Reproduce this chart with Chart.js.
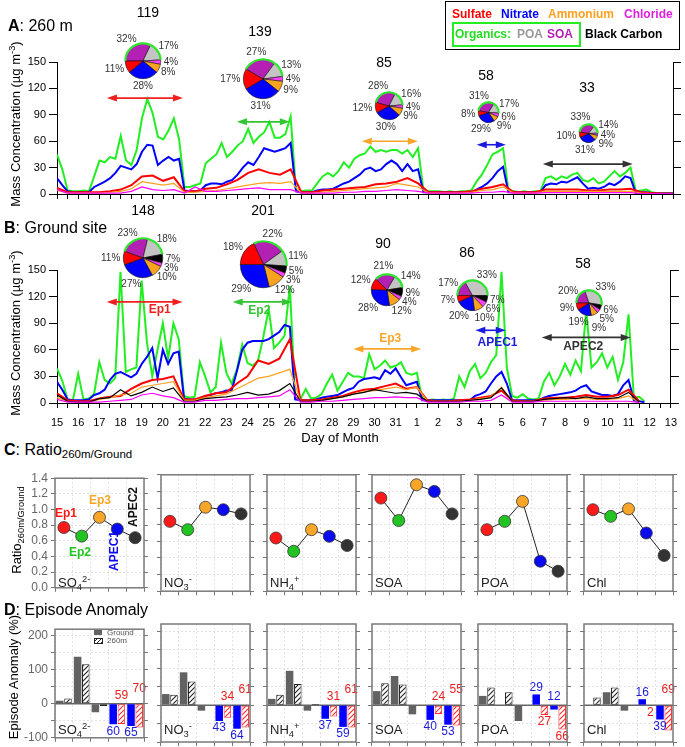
<!DOCTYPE html>
<html>
<head>
<meta charset="utf-8">
<title>Aerosol episodes at 260 m and ground</title>
<script src="https://cdn.jsdelivr.net/npm/chart.js@4.4.1/dist/chart.umd.min.js"></script>
<style>
  body { margin: 0; width: 685px; height: 747px; position: relative; overflow: hidden; background: #fff;
         font-family: "Liberation Sans", Arial, sans-serif; color: #000; }
  canvas { position: absolute; }
  .t { position: absolute; white-space: nowrap; line-height: 1; }
  sub, sup { font-size: 72%; line-height: 0; position: relative; vertical-align: baseline; }
  sup { top: -0.55em; }
  sub { top: 0.3em; }
</style>
</head>
<body>
<script>
// x of the time series = days since Oct 15 00:00
const STEP_FINE = 0.25;    // organics, nitrate (6-hourly)
const STEP_COARSE = 0.5;   // the smaller species (12-hourly)

// ---- A: 260 m ----
const ORG_A = [
  45, 28, 4, 3,      // 15
  3, 4, 3, 20,       // 16
  38, 36, 42, 40,    // 17
  66, 38, 33, 50,    // 18
  86, 108, 92, 65,   // 19
  62, 72, 86, 62,    // 20
  8, 8, 10, 12,      // 21
  35, 40, 45, 58,    // 22
  42, 48, 55, 60,    // 23
  74, 58, 65, 70,    // 24
  82, 64, 64, 68,    // 25
  88, 4, 3, 4,       // 26
  4, 12, 20, 24,     // 27
  20, 26, 36, 30,    // 28
  40, 44, 46, 54,    // 29
  48, 50, 48, 50,    // 30
  50, 46, 50, 42,    // 31
  52, 4, 3, 3,       // 1
  3, 2, 3, 2,        // 2
  3, 3, 4, 14,       // 3
  22, 33, 45, 48,    // 4
  52, 4, 3, 2,       // 5
  3, 2, 3, 3,        // 6
  18, 20, 16, 20,    // 7
  18, 22, 24, 16,    // 8
  14, 18, 12, 14,    // 9
  20, 26, 20, 24,    // 10
  30, 3, 4, 5,       // 11
  2, 1, 1, 1,        // 12
  1                  // 13
];
const NO3_A = [
  18, 10, 3, 2,
  2, 2, 2, 8,
  11, 14, 18, 24,
  32, 30, 28, 34,
  48, 56, 55, 33,
  38, 42, 38, 40,
  4, 3, 3, 4,
  10, 12, 12, 11,
  14, 16, 22, 30,
  36, 33, 42, 52,
  50, 48, 50, 52,
  58, 3, 2, 2,
  2, 4, 5, 5,
  6, 9, 12, 14,
  18, 22, 28, 30,
  26, 28, 34, 38,
  34, 26, 34, 26,
  28, 2, 2, 2,
  2, 2, 2, 2,
  2, 2, 2, 5,
  8, 12, 18, 26,
  31, 2, 2, 2,
  2, 2, 2, 2,
  10, 12, 11, 14,
  13, 16, 19, 12,
  6, 7, 6, 8,
  12, 10, 14, 20,
  18, 1, 2, 2,
  1, 0.5, 0.5, 0.5,
  0.5
];
const SO4_A = [7, 2, 2, 2, 2, 3, 5, 10, 20, 21, 15, 19, 3, 3, 6, 7, 11, 16, 24, 28, 24, 22, 28, 2,
  2, 4, 5, 6, 7, 8, 11, 12, 14, 18, 12, 2, 2, 2, 2, 3, 6, 8, 11, 2, 2, 2, 5, 5, 5, 5, 4, 4, 5, 5,
  6, 2, 1, 0.5, 0.5];
const NH4_A = [4, 1, 1, 1, 1, 2, 3, 6, 14, 12, 10, 12, 2, 2, 3, 4, 6, 8, 10, 12, 13, 12, 14, 1,
  1, 2, 3, 4, 5, 6, 7, 8, 12, 10, 8, 1, 1, 1, 1, 2, 4, 5, 8, 1, 1, 1, 3, 3, 3, 3, 3, 3, 3, 3,
  3, 1, 0.5, 0.5, 0.5];
const CHL_A = [5, 1, 1, 1, 1, 1, 1, 3, 8, 5, 4, 5, 1, 8, 3, 3, 4, 5, 6, 7, 5, 5, 5, 1,
  1, 1, 1, 2, 2, 3, 3, 4, 5, 4, 3, 1, 1, 1, 1, 1, 2, 2, 3, 1, 1, 1, 1.5, 1.5, 1.5, 1.5, 1.5, 1.5, 1.5, 1.5,
  1.5, 0.5, 0.5, 0.5, 0.5];

// ---- B: ground site ----
const ORG_B = [
  39, 25, 4, 3,      // 15
  33, 4, 5, 10,      // 16
  46, 26, 22, 28,    // 17
  148, 35, 38, 40,   // 18
  138, 68, 30, 60,   // 19
  90, 50, 90, 72,    // 20
  8, 6, 7, 46,       // 21
  30, 12, 18, 68,    // 22
  34, 22, 38, 66,    // 23
  45, 42, 48, 75,    // 24
  106, 62, 68, 76,   // 25
  132, 6, 4, 16,     // 26
  5, 6, 10, 22,      // 27
  32, 14, 24, 34,    // 28
  30, 30, 28, 55,    // 29
  38, 42, 48, 40,    // 30
  42, 46, 34, 32,    // 31
  34, 5, 3, 4,       // 1
  3, 4, 3, 5,        // 2
  30, 18, 36, 44,    // 3
  28, 34, 46, 54,    // 4
  148, 40, 8, 6,     // 5
  10, 5, 4, 5,       // 6
  24, 34, 20, 30,    // 7
  44, 32, 48, 36,    // 8
  104, 40, 46, 56,   // 9
  40, 52, 26, 46,    // 10
  100, 6, 7, 2       // 11
];
const NO3_B = [
  24, 15, 4, 3,
  3, 3, 4, 9,
  11, 15, 26, 33,
  35, 32, 29, 33,
  44, 52, 62, 28,
  60, 44, 56, 58,
  5, 4, 4, 5,
  8, 9, 11, 12,
  14, 14, 36, 60,
  68, 70, 70, 70,
  72, 76, 80, 88,
  86, 4, 3, 3,
  3, 4, 6, 7,
  8, 9, 12, 15,
  17, 24, 27, 28,
  29, 27, 37, 33,
  39, 29, 20, 22,
  24, 3, 3, 3,
  3, 3, 3, 3,
  3, 3, 3, 8,
  10, 13, 22, 30,
  35, 22, 3, 3,
  3, 3, 3, 3,
  6, 8, 9, 10,
  11, 12, 14, 18,
  20, 13, 11, 9,
  9, 8, 10, 20,
  26, 3, 2, 1
];
const SO4_B = [11, 3, 2, 2, 5, 7, 8, 16, 22, 26, 27, 30, 4, 4, 8, 11, 12, 22, 30, 48, 44, 50, 72, 3,
  3, 4, 6, 8, 12, 15, 16, 19, 22, 16, 18, 3, 2, 2, 3, 4, 6, 8, 14, 3, 2, 2, 5, 6, 6, 7, 9, 7, 7, 9,
  15, 2];
const NH4_B = [6, 2, 1, 1, 4, 6, 9, 11, 18, 20, 22, 24, 3, 3, 6, 8, 10, 16, 22, 28, 30, 34, 38, 2,
  2, 3, 5, 7, 10, 13, 14, 16, 18, 15, 18, 2, 2, 2, 2, 3, 5, 7, 18, 2, 2, 2, 3, 4, 4, 5, 5, 4, 4, 5,
  8, 1];
const CHL_B = [4, 1, 1, 1, 1, 2, 3, 4, 9, 11, 8, 6, 1, 1, 3, 3, 4, 5, 5, 6, 7, 8, 15, 1,
  1, 2, 2, 3, 4, 5, 6, 6, 7, 6, 6, 1, 1, 1, 1, 2, 2, 3, 9, 1, 1, 1, 2, 2, 2, 2, 2, 2, 2, 2,
  2, 0.5];
const BC_B = [9, 2, 1, 1, 5, 6, 15, 8, 12, 18, 13, 17, 2, 2, 5, 6, 7, 9, 12, 9, 10, 14, 22, 2,
  2, 3, 5, 7, 10, 12, 15, 13, 11, 12, 10, 2, 2, 2, 2, 3, 4, 6, 17, 2, 2, 2, 4, 5, 6, 5, 7, 5, 5, 6,
  12, 1];

// ---- episode pies: shares (%) in order SOA, POA, BC, Chl, NH4, NO3, SO4 ----
const PIE_KEYS = ['SOA', 'POA', 'BC', 'Chl', 'NH4', 'NO3', 'SO4'];
const TOTAL_A = [119, 139, 85, 58, 33];
const PIE_A = [
  [32, 17, 0, 4, 8, 28, 11],
  [27, 13, 0, 4, 9, 31, 17],
  [28, 16, 0, 4, 9, 30, 12],
  [31, 17, 0, 6, 9, 29, 8],
  [33, 14, 0, 4, 9, 31, 10]
];
const TOTAL_B = [148, 201, 90, 86, 58];
const PIE_B = [
  [23, 18, 7, 3, 10, 27, 11],
  [22, 11, 5, 3, 12, 29, 18],
  [21, 14, 9, 4, 12, 28, 12],
  [17, 33, 7, 6, 10, 20, 7],
  [20, 33, 6, 5, 9, 19, 9]
];

// ---- episodes (day offsets) ----
const EPISODES = ['Ep1', 'Ep2', 'Ep3', 'APEC1', 'APEC2'];
const PERIOD_A = [[2.35, 5.93], [8.47, 10.96], [14.35, 16.99], [19.76, 21.13], [22.87, 27.1]];
const PERIOD_B = [[2.35, 5.93], [8.3, 11.1], [14.0, 17.2], [19.76, 21.2], [22.9, 27.1]];

// ---- C: ratio 260 m / ground ----
const RATIO_SO4 = [0.77, 0.66, 0.90, 0.75, 0.64];
const RATIO_NO3 = [0.84, 0.74, 1.01, 0.98, 0.93];
const RATIO_NH4 = [0.64, 0.48, 0.74, 0.66, 0.55];
const RATIO_SOA = [1.12, 0.85, 1.28, 1.20, 0.93];
const RATIO_POA = [0.74, 0.84, 1.08, 0.36, 0.24];
const RATIO_CHL = [0.98, 0.90, 0.99, 0.70, 0.43];

// ---- D: episode anomaly (%) ----
const ANOM_GROUND_SO4 = [9, 139, -25, -60, -65];
const ANOM_260_SO4 = [16, 117, -6, -59, -70];
const ANOM_GROUND_NO3 = [30, 89, -15, -43, -64];
const ANOM_260_NO3 = [28, 64, -2, -34, -61];
const ANOM_GROUND_NH4 = [17, 93, -15, -37, -59];
const ANOM_260_NH4 = [28, 57, 3, -31, -61];
const ANOM_GROUND_SOA = [38, 79, -25, -40, -53];
const ANOM_260_SOA = [59, 56, 1, -24, -55];
const ANOM_GROUND_POA = [25, 0, -43, 29, -12];
const ANOM_260_POA = [48, 35, 1, -27, -66];
const ANOM_GROUND_CHL = [0, 35, -15, 16, -39];
const ANOM_260_CHL = [21, 48, 1, -2, -69];

// ---------------- layout & style ----------------
const C_SULF = '#ff0000', C_NITR = '#0000ff', C_AMMO = '#ffa020', C_CHL = '#ff00ff', C_ORG = '#22ee22', C_BC = '#000';
const EP_COLORS = ['#ff1a1a', '#22c422', '#f8a628', '#0a0af0', '#333333'];
const PIE_COLORS = ['#b41fb4', '#c4c4c4', '#000000', '#ff40ff', '#f9a320', '#0000ff', '#ff0000'];
const BOX_X = [55, 161, 267, 372, 478, 584], BOX_W = 89;
const GRID = '#e2e2e2', AXIS = '#777';
const BASE = { responsive: false, animation: false, events: [], devicePixelRatio: 1 };
Chart.defaults.font.family = '"Liberation Sans", Arial, sans-serif';

function makeCanvas(left, top, w, h) {
  const c = document.createElement('canvas');
  c.width = w; c.height = h;
  c.style.left = left + 'px'; c.style.top = top + 'px';
  c.style.width = w + 'px'; c.style.height = h + 'px';
  document.body.appendChild(c);
  return c;
}

function text(html, x, y, css, mode) {
  const el = document.createElement('div');
  el.className = 't';
  el.innerHTML = html;
  el.style.cssText += css || '';
  el.style.left = x + 'px'; el.style.top = y + 'px';
  el.style.transform = mode === 'left' ? 'translate(0,-50%)'
    : mode === 'rot' ? 'translate(-50%,-50%) rotate(-90deg)' : 'translate(-50%,-50%)';
  document.body.appendChild(el);
}

function dayLabel(v) { const d = 15 + v; return String(d > 31 ? d - 31 : d); }

// double-headed episode arrows drawn on the time axis
const episodeArrows = {
  id: 'episodeArrows',
  afterDatasetsDraw(chart, args, opts) {
    const { ctx, scales: { x, y } } = chart;
    (opts.items || []).forEach(a => {
      const x1 = x.getPixelForValue(a.from), x2 = x.getPixelForValue(a.to), yy = y.getPixelForValue(a.level);
      ctx.save();
      ctx.strokeStyle = a.color; ctx.fillStyle = a.color; ctx.lineWidth = 1.6;
      ctx.beginPath(); ctx.moveTo(x1 + 6, yy); ctx.lineTo(x2 - 6, yy); ctx.stroke();
      [[x1, 1], [x2, -1]].forEach(([px, dir]) => {
        ctx.beginPath(); ctx.moveTo(px, yy); ctx.lineTo(px + dir * 10, yy - 3.5); ctx.lineTo(px + dir * 10, yy + 3.5);
        ctx.closePath(); ctx.fill();
      });
      if (a.label) {
        ctx.font = 'bold 12px "Liberation Sans", Arial';
        ctx.textAlign = 'center'; ctx.textBaseline = 'middle';
        ctx.fillText(a.label, (x1 + x2) / 2 + a.dx, yy + a.dy);
      }
      ctx.restore();
    });
  }
};

function timeChart(top, height, padTop, xHeight, showDays, sets, arrows) {
  const c = makeCanvas(0, top, 685, height);
  return new Chart(c, {
    type: 'line',
    data: {
      datasets: sets.map(s => ({
        data: s.values.map((v, i) => ({ x: i * s.step, y: v })),
        borderColor: s.color, borderWidth: s.width, pointRadius: 0, tension: 0, fill: false
      }))
    },
    options: {
      ...BASE,
      layout: { padding: { top: padTop } },
      plugins: { legend: { display: false }, tooltip: { enabled: false }, episodeArrows: { items: arrows } },
      scales: {
        x: {
          type: 'linear', min: 0, max: 29, afterFit: s => { s.height = xHeight; },
          ticks: { stepSize: 0.5, autoSkip: false, maxRotation: 0, padding: 8, color: '#000', font: { size: 11 },
                   callback: v => (showDays && Number.isInteger(v)) ? dayLabel(v) : '' },
          grid: { drawOnChartArea: false, tickLength: 5, tickColor: '#000' }, border: { color: '#000' }
        },
        y: {
          min: 0, max: 150, afterFit: s => { s.width = 57; },
          ticks: { stepSize: 30, padding: 3, color: '#000', font: { size: 11 } },
          grid: { drawOnChartArea: false, tickLength: 8, tickColor: '#000' }, border: { color: '#000' }
        },
        yR: {
          position: 'right', min: 0, max: 150, afterFit: s => { s.width = 12; },
          ticks: { stepSize: 30, display: false },
          grid: { drawOnChartArea: false, tickLength: 8, tickColor: '#000' }, border: { color: '#000' }
        }
      }
    },
    plugins: [episodeArrows]
  });
}

const ARROW_COLORS = ['#ee2020', '#33c433', '#f8a628', '#1a1ae0', '#333333'];
const ARROW_LEVEL_A = [109, 82, 60, 56, 34];
const ARROW_LEVEL_B = [114, 114, 61, 82, 74];
const ARROW_LABEL_OFF_B = [[15, 8], [-3, 9], [3, -10], [7, 12], [-3, 9]];

timeChart(50, 160, 12, 16, false, [
  { values: CHL_A, step: STEP_COARSE, color: C_CHL, width: 1.2 },
  { values: NH4_A, step: STEP_COARSE, color: C_AMMO, width: 1.2 },
  { values: SO4_A, step: STEP_COARSE, color: C_SULF, width: 2 },
  { values: NO3_A, step: STEP_FINE, color: C_NITR, width: 2 },
  { values: ORG_A, step: STEP_FINE, color: C_ORG, width: 2 }
], PERIOD_A.map((p, i) => ({ from: p[0], to: p[1], level: ARROW_LEVEL_A[i], color: ARROW_COLORS[i] })));

timeChart(255, 178, 15, 30, true, [
  { values: CHL_B, step: STEP_COARSE, color: C_CHL, width: 1.2 },
  { values: BC_B, step: STEP_COARSE, color: C_BC, width: 1.2 },
  { values: NH4_B, step: STEP_COARSE, color: C_AMMO, width: 1.2 },
  { values: SO4_B, step: STEP_COARSE, color: C_SULF, width: 2 },
  { values: NO3_B, step: STEP_FINE, color: C_NITR, width: 2 },
  { values: ORG_B, step: STEP_FINE, color: C_ORG, width: 2 }
], PERIOD_B.map((p, i) => ({ from: p[0], to: p[1], level: ARROW_LEVEL_B[i], color: ARROW_COLORS[i],
  label: EPISODES[i], dx: ARROW_LABEL_OFF_B[i][0], dy: ARROW_LABEL_OFF_B[i][1] })));

// ---- pies ----
const pieLabels = {
  id: 'pieLabels',
  afterDatasetsDraw(chart) {
    const ctx = chart.ctx, arcs = chart.getDatasetMeta(0).data;
    const vals = chart.data.datasets[0].data, names = chart.data.labels;
    ctx.save();
    const org = arcs.filter((a, i) => names[i] === 'SOA' || names[i] === 'POA');
    ctx.strokeStyle = '#2ee62e'; ctx.lineWidth = 2.2;
    ctx.beginPath();
    ctx.arc(arcs[0].x, arcs[0].y, arcs[0].outerRadius, org[0].startAngle, org[org.length - 1].endAngle);
    ctx.stroke();
    ctx.font = '10px "Liberation Sans", Arial';
    ctx.fillStyle = '#333'; ctx.textAlign = 'center'; ctx.textBaseline = 'middle';
    const items = arcs.map((a, i) => {
      const mid = (a.startAngle + a.endAngle) / 2, cs = Math.cos(mid), sn = Math.sin(mid);
      const t = vals[i] + '%', w = ctx.measureText(t).width, R = a.outerRadius + 3;
      return { t, cs, x: a.x + cs * (R + w / 2), y: a.y + sn * (R + 5) };
    });
    // keep neighbouring labels on the same side from overlapping
    [items.filter(o => o.cs >= 0.2), items.filter(o => o.cs <= -0.2)].forEach(side => {
      side.sort((p, q) => p.y - q.y);
      for (let i = 1; i < side.length; i++) {
        if (side[i].y < side[i - 1].y + 9) side[i].y = side[i - 1].y + 9;
      }
    });
    items.forEach(o => ctx.fillText(o.t, o.x, o.y));
    ctx.restore();
  }
};

function makePie(cx, cy, r, rot, shares) {
  const padX = 40, padY = 24;
  const w = Math.round(2 * r + 2 * padX), h = Math.round(2 * r + 2 * padY);
  const c = makeCanvas(Math.round(cx - w / 2), Math.round(cy - h / 2), w, h);
  const idx = shares.map((v, i) => i).filter(i => shares[i] > 0);
  new Chart(c, {
    type: 'pie',
    data: {
      labels: idx.map(i => PIE_KEYS[i]),
      datasets: [{ data: idx.map(i => shares[i]), backgroundColor: idx.map(i => PIE_COLORS[i]),
                   borderColor: '#111', borderWidth: 0.6, rotation: rot }]
    },
    options: { ...BASE, layout: { padding: { left: padX, right: padX, top: padY, bottom: padY } },
               plugins: { legend: { display: false }, tooltip: { enabled: false } } },
    plugins: [pieLabels]
  });
}

const PIE_POS_A = [[143, 61, 18, -90], [263, 79, 20, -60], [389, 106, 14, -75], [488, 112, 10.5, -80], [588, 133, 9.5, -80]];
const TOTAL_POS_A = [[148, 12], [260, 31], [384, 62], [486, 75], [587, 87]];
const PIE_POS_B = [[143, 258, 20, -70], [263, 264, 23.5, -25], [387, 290, 16, -45], [472, 295, 15.5, -90], [589, 303, 13, -90]];
const TOTAL_POS_B = [[143, 210], [263, 210], [383, 243], [467, 252], [583, 263]];

PIE_A.forEach((s, i) => { const p = PIE_POS_A[i]; makePie(p[0], p[1], p[2], p[3], s); });
PIE_B.forEach((s, i) => { const p = PIE_POS_B[i]; makePie(p[0], p[1], p[2], p[3], s); });
TOTAL_A.forEach((v, i) => text(String(v), TOTAL_POS_A[i][0], TOTAL_POS_A[i][1], 'font-size:14px;'));
TOTAL_B.forEach((v, i) => text(String(v), TOTAL_POS_B[i][0], TOTAL_POS_B[i][1], 'font-size:14px;'));

// ---- small panels ----
const boxFrame = {
  id: 'boxFrame',
  beforeDatasetsDraw(chart, args, opts) {
    if (!opts.zero) return;
    const { ctx, chartArea: a } = chart, y0 = chart.scales.y.getPixelForValue(0);
    ctx.save(); ctx.strokeStyle = '#666'; ctx.lineWidth = 1.5;
    ctx.beginPath(); ctx.moveTo(a.left, y0); ctx.lineTo(a.right, y0); ctx.stroke(); ctx.restore();
  },
  afterDraw(chart) {
    const { ctx, chartArea: a } = chart;
    ctx.save(); ctx.strokeStyle = '#7a7a7a'; ctx.lineWidth = 1.5;
    ctx.strokeRect(a.left, a.top, a.right - a.left, a.bottom - a.top); ctx.restore();
  }
};

function smallScales(k, min, max, step, bounds, labelCb) {
  const axL = k === 0 ? 55 : 8;
  return {
    x: { offset: true, afterFit: s => { s.height = 6; }, ticks: { display: false },
         grid: { offset: true, color: GRID, tickColor: AXIS, tickLength: 4, tickBorderDash: [] },
         border: { display: false, dash: [2, 2] } },
    y: { min, max, afterFit: s => { s.width = axL; },
         ticks: { stepSize: step, display: k === 0, autoSkip: false, includeBounds: bounds, color: '#666',
                  font: { size: 12 }, padding: 3, callback: labelCb },
         grid: { color: GRID, tickColor: AXIS, tickLength: 4, tickBorderDash: [] },
         border: { display: false, dash: [2, 2] } },
    yR: { position: 'right', min, max, afterFit: s => { s.width = 8; },
          ticks: { stepSize: step, display: false, autoSkip: false, includeBounds: bounds },
          grid: { drawOnChartArea: false, tickColor: AXIS, tickLength: 4 }, border: { display: false } }
  };
}

function ratioChart(k, values) {
  const axL = k === 0 ? 55 : 8;
  const c = makeCanvas(BOX_X[k] - axL, 468, axL + BOX_W + 8, 130);
  new Chart(c, {
    type: 'line',
    data: { labels: EPISODES, datasets: [{ data: values, borderColor: '#222', borderWidth: 1, tension: 0,
      pointRadius: 6, pointBackgroundColor: EP_COLORS, pointBorderColor: '#333', pointBorderWidth: 0.8 }] },
    options: { ...BASE, layout: { padding: { top: 5 } },
      plugins: { legend: { display: false }, tooltip: { enabled: false } },
      scales: smallScales(k, 0, 1.4, 0.2, true, v => v.toFixed(1)) },
    plugins: [boxFrame]
  });
}

const anomalyLabels = {
  id: 'anomalyLabels',
  afterDatasetsDraw(chart, args, opts) {
    const ctx = chart.ctx, y0 = chart.scales.y.getPixelForValue(0);
    ctx.save();
    ctx.font = '12px "Liberation Sans", Arial'; ctx.textAlign = 'center'; ctx.textBaseline = 'middle';
    [0, 1].forEach(di => {
      const meta = chart.getDatasetMeta(di), vals = chart.data.datasets[di].data;
      [3, 4].forEach((j, n) => {
        const bar = meta.data[j], v = vals[j], side = opts.sides[n * 2 + di];
        const y = side === 'end' ? (v >= 0 ? bar.y - 7 : bar.y + 7) : y0 - (side === 'high' ? 15 : 8);
        ctx.fillStyle = di === 0 ? '#1c1cdc' : '#e82020';
        ctx.fillText(String(Math.abs(v)), bar.x, y);
      });
    });
    ctx.restore();
  }
};

function hatch(color) {
  const c = document.createElement('canvas'); c.width = 5; c.height = 5;
  const g = c.getContext('2d');
  g.fillStyle = '#fff'; g.fillRect(0, 0, 5, 5);
  g.strokeStyle = color; g.lineWidth = 1.1;
  g.beginPath(); g.moveTo(0, 5); g.lineTo(5, 0); g.moveTo(-1, 1); g.lineTo(1, -1); g.moveTo(4, 6); g.lineTo(6, 4); g.stroke();
  return g.createPattern(c, 'repeat');
}
const HATCH_K = hatch('#222'), HATCH_R = hatch('#ff2a2a');

function anomalyChart(k, ground, up, sides) {
  const axL = k === 0 ? 55 : 8;
  const c = makeCanvas(BOX_X[k] - axL, 619, axL + BOX_W + 8, 129);
  new Chart(c, {
    type: 'bar',
    data: { labels: EPISODES, datasets: [
      { data: ground, backgroundColor: ['#626262', '#626262', '#626262', '#0000ff', '#0000ff'], borderWidth: 0,
        barPercentage: 0.92, categoryPercentage: 0.92 },
      { data: up, backgroundColor: [HATCH_K, HATCH_K, HATCH_K, HATCH_R, HATCH_R],
        borderColor: ['#222', '#222', '#222', '#ff2a2a', '#ff2a2a'], borderWidth: 1, borderSkipped: false,
        barPercentage: 0.92, categoryPercentage: 0.92 }
    ] },
    options: { ...BASE, layout: { padding: { top: 5 } },
      plugins: { legend: { display: false }, tooltip: { enabled: false }, boxFrame: { zero: true }, anomalyLabels: { sides } },
      scales: smallScales(k, -100, 220, 50, false, v => (v % 100 === 0 ? String(v) : '')) },
    plugins: [boxFrame, anomalyLabels]
  });
}

const RATIOS = [RATIO_SO4, RATIO_NO3, RATIO_NH4, RATIO_SOA, RATIO_POA, RATIO_CHL];
const ANOM_GROUND = [ANOM_GROUND_SO4, ANOM_GROUND_NO3, ANOM_GROUND_NH4, ANOM_GROUND_SOA, ANOM_GROUND_POA, ANOM_GROUND_CHL];
const ANOM_260 = [ANOM_260_SO4, ANOM_260_NO3, ANOM_260_NH4, ANOM_260_SOA, ANOM_260_POA, ANOM_260_CHL];
// where the APEC numbers sit: [APEC1 ground, APEC1 260m, APEC2 ground, APEC2 260m]
const LABEL_SIDES = [
  ['end', 'top', 'end', 'high'], ['end', 'top', 'end', 'high'], ['end', 'top', 'end', 'high'],
  ['end', 'top', 'end', 'high'], ['end', 'end', 'top', 'end'], ['end', 'end', 'end', 'high']
];
const SPECIES_HTML = ['SO<sub>4</sub><sup>2-</sup>', 'NO<sub>3</sub><sup>-</sup>', 'NH<sub>4</sub><sup>+</sup>', 'SOA', 'POA', 'Chl'];

RATIOS.forEach((v, k) => ratioChart(k, v));
ANOM_GROUND.forEach((g, k) => anomalyChart(k, g, ANOM_260[k], LABEL_SIDES[k]));
SPECIES_HTML.forEach((h, k) => {
  text(h, BOX_X[k] + 3, 582, 'font-size:13px;color:#222;', 'left');
  text(h, BOX_X[k] + 3, 729, 'font-size:13px;color:#222;', 'left');
});

// ---- titles, axis names, legend ----
text('<b>A</b>: 260 m', 8, 26, 'font-size:16px;', 'left');
text('<b>B</b>: Ground site', 4, 228, 'font-size:16px;', 'left');
text('<b>C</b>: Ratio<sub>260m/Ground</sub>', 4, 450, 'font-size:16px;', 'left');
text('<b>D</b>: Episode Anomaly', 4, 610, 'font-size:16px;', 'left');
text('Mass Concentration (µg m<sup>-3</sup>)', 15, 124, 'font-size:13px;', 'rot');
text('Mass Concentration (µg m<sup>-3</sup>)', 15, 333, 'font-size:13px;', 'rot');
text('Ratio<sub>260m/Ground</sub>', 16, 530, 'font-size:13px;', 'rot');
text('Episode Anomaly (%)', 13, 677, 'font-size:13px;', 'rot');
text('Day of Month', 340, 437, 'font-size:13px;');

text('Ep1', 66, 513, 'font-size:12px;font-weight:bold;color:#ff1a1a;');
text('Ep2', 80, 552, 'font-size:12px;font-weight:bold;color:#22c422;');
text('Ep3', 100, 500, 'font-size:12px;font-weight:bold;color:#f8a628;');
text('APEC1', 114, 551, 'font-size:12px;font-weight:bold;color:#0a0af0;', 'rot');
text('APEC2', 133, 507, 'font-size:12px;font-weight:bold;color:#111;', 'rot');

// D legend
const lg1 = document.createElement('div');
lg1.style.cssText = 'position:absolute;left:94px;top:630px;width:8px;height:5px;background:#626262;';
document.body.appendChild(lg1);
const lg2 = document.createElement('div');
lg2.style.cssText = 'position:absolute;left:94px;top:638px;width:7px;height:4px;border:1px solid #222;' +
  'background:repeating-linear-gradient(-45deg,#222 0 1px,#fff 1px 3px);';
document.body.appendChild(lg2);
text('Ground', 107, 633, 'font-size:8px;color:#555;', 'left');
text('260m', 107, 641, 'font-size:8px;color:#555;', 'left');

// species legend box
const box = document.createElement('div');
box.style.cssText = 'position:absolute;left:445px;top:1px;width:233px;height:47px;border:1px solid #000;';
document.body.appendChild(box);
const gbox = document.createElement('div');
gbox.style.cssText = 'position:absolute;left:452px;top:22px;width:125px;height:21px;border:2px solid #22ee22;';
document.body.appendChild(gbox);
const LG = 'font-size:12px;font-weight:bold;';
text('Sulfate', 452, 14, LG + 'color:#ff0000;', 'left');
text('Nitrate', 501, 14, LG + 'color:#0000ff;', 'left');
text('Ammonium', 548, 14, LG + 'color:#ffa020;', 'left');
text('Chloride', 624, 14, LG + 'color:#e020e0;', 'left');
text('Organics:', 455, 34, LG + 'color:#22dd22;', 'left');
text('POA', 517, 34, LG + 'color:#999;', 'left');
text('SOA', 547, 34, LG + 'color:#b41fb4;', 'left');
text('Black Carbon', 585, 34, LG + 'color:#000;', 'left');
</script>
</body>
</html>
